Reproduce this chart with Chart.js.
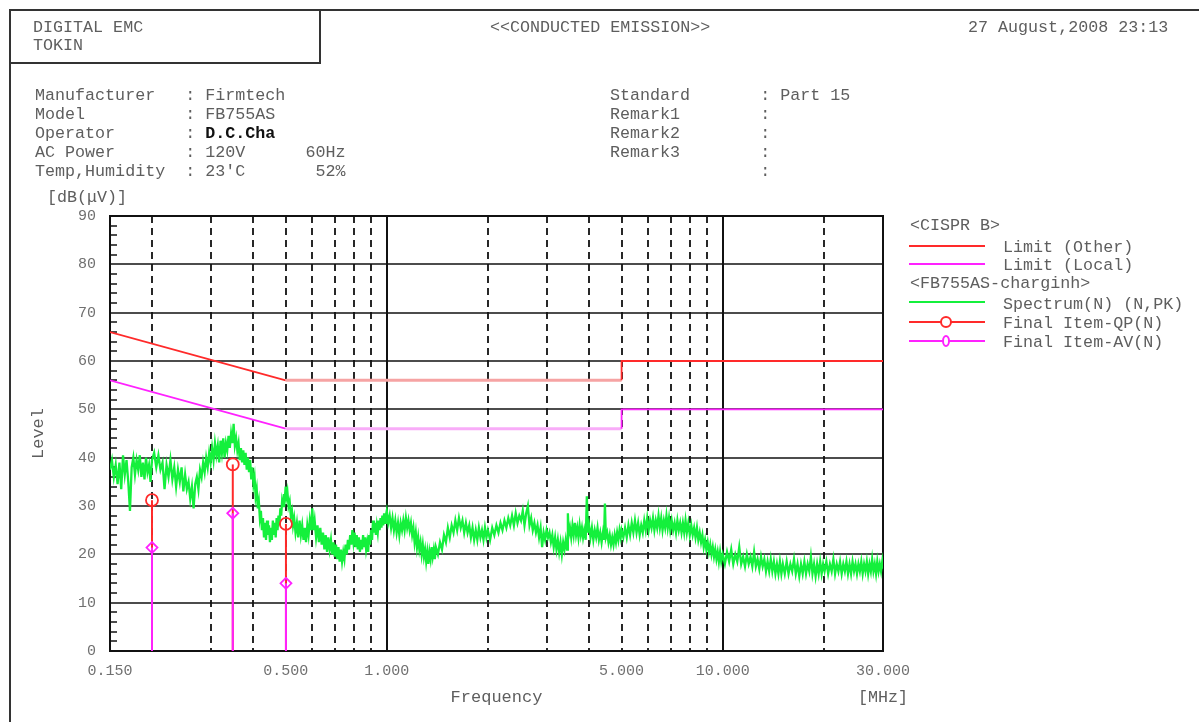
<!DOCTYPE html>
<html><head><meta charset="utf-8">
<script src="https://cdn.jsdelivr.net/npm/chart.js@4.4.1/dist/chart.umd.min.js"></script>
<style>
html,body{margin:0;padding:0;background:#fff;}
#wrap{position:relative;width:1199px;height:722px;overflow:hidden;font-family:"Liberation Mono","DejaVu Sans Mono",monospace;color:#5e5e5e;}
#c{position:absolute;left:0;top:0;}
.t{position:absolute;font-size:16.7px;line-height:20px;white-space:pre;}
.ln{position:absolute;height:2px;width:76px;left:909px;}
.b{font-weight:bold;color:#111;}
</style></head><body>
<div id="wrap">
<canvas id="c" width="1199" height="722"></canvas>
<div style="position:absolute;left:9px;top:9px;width:1190px;height:2px;background:#333"></div>
<div style="position:absolute;left:9px;top:9px;width:2px;height:713px;background:#333"></div>
<div style="position:absolute;left:9px;top:9px;width:312px;height:55px;border:2px solid #333;box-sizing:border-box"></div>

<div class="t" style="left:33px;top:18px">DIGITAL EMC</div>
<div class="t" style="left:33px;top:36px">TOKIN</div>
<div class="t" style="left:490px;top:18px">&lt;&lt;CONDUCTED EMISSION&gt;&gt;</div>
<div class="t" style="left:968px;top:18px">27 August,2008 23:13</div>

<div class="t" style="left:35px;top:86px">Manufacturer   : Firmtech</div>
<div class="t" style="left:35px;top:105px">Model          : FB755AS</div>
<div class="t" style="left:35px;top:124px">Operator       : <span class="b">D.C.Cha</span></div>
<div class="t" style="left:35px;top:143px">AC Power       : 120V      60Hz</div>
<div class="t" style="left:35px;top:162px">Temp,Humidity  : 23'C       52%</div>

<div class="t" style="left:610px;top:86px">Standard       : Part 15</div>
<div class="t" style="left:610px;top:105px">Remark1        :</div>
<div class="t" style="left:610px;top:124px">Remark2        :</div>
<div class="t" style="left:610px;top:143px">Remark3        :</div>
<div class="t" style="left:610px;top:162px">               :</div>

<div class="t" style="left:47px;top:188px">[dB(μV)]</div>
<div class="t" style="left:858px;top:688px">[MHz]</div>

<div class="t" style="left:910px;top:216px">&lt;CISPR B&gt;</div>
<div class="ln" style="top:245px;background:#ff2a2a"></div>
<div class="t" style="left:1003px;top:238px">Limit (Other)</div>
<div class="ln" style="top:263px;background:#ff22ff"></div>
<div class="t" style="left:1003px;top:256px">Limit (Local)</div>
<div class="t" style="left:910px;top:274px">&lt;FB755AS-charginh&gt;</div>
<div class="ln" style="top:301px;background:#14f03c"></div>
<div class="t" style="left:1003px;top:295px">Spectrum(N) (N,PK)</div>
<div class="ln" style="top:321px;background:#ff2a2a"></div>
<div style="position:absolute;left:940px;top:316px;width:12px;height:12px;border:2px solid #ff2a2a;border-radius:50%;box-sizing:border-box;background:#fff"></div>
<div class="t" style="left:1003px;top:314px">Final Item-QP(N)</div>
<div class="ln" style="top:340px;background:#ff22ff"></div>
<div style="position:absolute;left:942px;top:335px;width:8px;height:12px;border:2px solid #ff22ff;border-radius:50%;box-sizing:border-box;background:#fff"></div>
<div class="t" style="left:1003px;top:333px">Final Item-AV(N)</div>
</div>
<script>
// ---- data ----
const limitFreq  = [0.15, 0.5, 5, 5, 30];
const limitOther = [66, 56, 56, 60, 60];
const limitLocal = [56, 46, 46, 50, 50];

const finalFreq = [0.200, 0.348, 0.501];
const finalQP   = [31.2, 38.6, 26.3];
const finalAV   = [21.4, 28.5, 14.0];

const xTickLabels = [0.15, 0.5, 1, 5, 10, 30];
const xGridDashed = [0.2, 0.3, 0.4, 0.5, 0.6, 0.7, 0.8, 0.9, 2, 3, 4, 5, 6, 7, 8, 9, 20];
const xGridSolid  = [1, 10];
const yTicks = [0, 10, 20, 30, 40, 50, 60, 70, 80, 90];
const yMinorTicks = [2,4,6,8,12,14,16,18,22,24,26,28,32,34,36,38,42,44,46,48,52,54,56,58,62,64,66,68,72,74,76,78,82,84,86,88];

// Spectrum (N) peak trace: [MHz, dBuV]
const spectrum = [
[0.150,37.5],[0.152,39.5],[0.154,36.0],[0.156,38.5],[0.158,34.5],[0.160,39.0],[0.162,33.5],[0.164,40.5],[0.166,36.5],[0.168,39.5],
[0.170,35.0],[0.172,29.0],[0.174,38.0],[0.176,40.0],[0.178,36.5],[0.180,39.5],[0.182,37.5],[0.184,40.5],[0.186,36.0],[0.188,39.0],
[0.190,35.5],[0.192,40.0],[0.194,37.0],[0.196,38.5],[0.198,35.0],[0.200,39.5],
[0.203,41.0],[0.206,38.0],[0.209,40.5],[0.212,37.5],[0.215,39.0],[0.218,33.5],[0.221,38.5],[0.224,36.0],[0.227,39.5],[0.230,35.5],
[0.233,38.0],[0.236,34.0],[0.239,37.5],[0.242,35.0],[0.245,38.0],[0.248,33.0],[0.251,36.5],[0.254,33.5],[0.257,35.0],[0.260,31.5],
[0.263,34.0],[0.266,29.5],[0.269,34.5],[0.272,36.0],[0.275,33.5],[0.278,37.5],[0.281,36.0],[0.284,39.0],[0.287,37.0],[0.290,40.0],
[0.293,38.0],[0.296,41.0],[0.299,39.0],
[0.302,42.0],[0.305,39.5],[0.308,43.0],[0.311,40.5],[0.314,42.5],[0.317,39.0],[0.320,43.5],[0.323,41.0],[0.326,44.0],[0.329,40.0],
[0.332,43.0],[0.335,41.5],[0.338,44.5],[0.341,42.0],[0.344,45.0],[0.347,43.0],[0.350,47.0],[0.353,42.5],[0.356,44.0],[0.359,41.5],
[0.362,43.0],[0.365,39.5],[0.368,42.0],[0.371,39.0],[0.374,41.5],[0.377,38.5],[0.380,41.0],[0.383,37.5],[0.386,40.0],[0.389,37.0],
[0.392,39.5],[0.395,35.5],[0.398,38.0],
[0.401,34.5],[0.404,36.0],[0.407,32.0],[0.410,33.5],[0.413,29.5],[0.416,31.0],[0.419,27.5],[0.422,29.0],[0.425,25.0],[0.428,27.5],
[0.431,23.5],[0.434,26.5],[0.437,23.0],[0.440,27.0],[0.443,24.0],[0.446,26.0],[0.449,22.5],[0.452,25.5],[0.455,23.0],[0.458,27.0],
[0.461,24.0],[0.464,26.5],[0.467,23.5],[0.470,27.5],[0.473,25.0],[0.476,28.0],[0.479,26.0],[0.482,29.5],[0.485,28.0],[0.488,31.0],
[0.491,30.0],[0.494,32.5],[0.497,31.5],[0.500,34.0],[0.503,32.0],[0.506,33.0],[0.510,30.0],[0.514,31.0],[0.518,28.0],[0.522,29.0],
[0.526,26.0],[0.530,27.5],[0.535,24.5],[0.540,26.5],[0.545,23.5],[0.550,27.0],[0.555,24.0],[0.560,26.0],[0.565,23.0],[0.570,25.5],
[0.575,22.5],[0.580,26.0],[0.585,24.0],[0.590,27.0],[0.595,25.0],[0.600,29.5],
[0.605,25.0],[0.610,27.0],[0.616,23.5],[0.622,26.0],[0.628,22.5],[0.634,25.5],[0.640,22.0],[0.646,24.5],[0.652,21.0],[0.658,24.0],
[0.664,20.5],[0.670,23.5],[0.676,21.0],[0.682,23.0],[0.688,20.0],[0.694,22.5],[0.700,19.5],[0.706,22.0],[0.712,19.0],[0.718,21.5],
[0.724,18.5],[0.730,21.0],[0.736,18.5],[0.742,20.5],[0.748,19.0],[0.754,22.0],[0.760,20.0],[0.766,23.0],[0.772,21.0],[0.778,24.0],
[0.784,22.0],[0.790,25.0],[0.796,22.5],[0.802,24.5],[0.808,21.5],[0.814,24.0],[0.820,21.0],[0.826,23.5],[0.832,20.5],[0.838,23.0],
[0.844,21.0],[0.850,24.0],[0.856,21.5],[0.862,23.5],[0.868,21.0],[0.874,22.5],[0.880,20.5],[0.886,24.0],[0.892,22.0],[0.898,25.0],
[0.904,23.0],[0.910,27.0],[0.916,24.5],[0.922,26.5],[0.928,24.0],[0.934,26.0],[0.940,24.5],[0.946,27.0],[0.952,25.0],[0.958,27.5],
[0.964,25.5],[0.970,28.0],[0.976,26.0],[0.982,28.5],[0.988,26.5],[0.994,28.0],[1.000,29.0],
[1.01,26.5],[1.02,28.0],[1.03,25.5],[1.04,27.5],[1.05,25.0],[1.06,27.0],[1.07,24.5],[1.08,26.5],[1.09,24.0],[1.10,26.5],
[1.11,25.0],[1.12,27.0],[1.13,25.0],[1.14,27.5],[1.15,25.5],[1.16,27.0],[1.17,25.0],[1.18,26.5],[1.19,24.0],[1.20,25.5],
[1.21,22.5],[1.22,24.5],[1.23,21.5],[1.24,23.5],[1.25,21.0],[1.26,22.5],[1.27,20.0],[1.28,22.0],[1.29,19.5],[1.30,21.0],
[1.31,18.5],[1.32,20.5],[1.33,18.0],[1.34,20.5],[1.35,19.0],[1.36,21.5],[1.37,19.5],[1.38,21.0],[1.39,19.0],[1.40,21.5],
[1.42,20.0],[1.44,22.5],[1.46,21.0],[1.48,24.0],[1.50,22.5],[1.52,25.5],[1.54,23.5],[1.56,26.0],[1.58,24.5],[1.60,27.0],
[1.62,25.0],[1.64,27.5],[1.66,25.5],[1.68,27.0],[1.70,24.5],[1.72,26.5],[1.74,24.5],[1.76,26.0],[1.78,23.5],[1.80,25.5],
[1.82,23.0],[1.84,25.0],[1.86,23.0],[1.88,25.5],[1.90,23.5],[1.92,25.0],[1.94,23.0],[1.96,25.5],[1.98,23.5],[2.00,25.0],
[2.03,23.0],[2.06,25.5],[2.09,24.0],[2.12,26.0],[2.15,24.5],[2.18,26.5],[2.21,25.0],[2.24,27.0],[2.27,25.5],[2.30,27.5],
[2.33,26.0],[2.36,28.0],[2.39,26.0],[2.42,28.5],[2.45,26.5],[2.48,28.0],[2.51,27.0],[2.54,29.0],[2.57,26.0],[2.60,28.5],
[2.63,30.0],[2.66,26.0],[2.69,27.5],[2.72,25.0],[2.75,26.5],[2.78,24.5],[2.81,26.0],[2.84,23.5],[2.87,25.5],[2.90,21.5],
[2.93,24.5],[2.96,23.0],[2.99,25.0],[3.02,23.5],[3.05,24.5],[3.08,22.5],[3.11,24.0],[3.14,21.5],[3.17,23.5],[3.20,21.0],
[3.23,23.0],[3.26,20.5],[3.29,22.5],[3.32,20.0],[3.35,22.5],[3.38,21.0],[3.41,23.0],[3.44,21.0],[3.46,28.5],[3.48,24.0],
[3.51,25.5],[3.54,23.5],[3.57,26.0],[3.60,24.0],[3.63,26.5],[3.66,24.0],[3.69,25.5],[3.72,23.5],[3.75,26.0],[3.78,24.0],
[3.81,25.5],[3.84,23.5],[3.87,25.0],[3.91,23.0],[3.94,32.0],[3.97,24.5],[4.00,26.0],[4.04,23.5],[4.08,25.5],[4.12,23.0],
[4.16,25.0],[4.20,23.5],[4.24,25.5],[4.28,23.0],[4.32,24.5],[4.36,22.5],[4.40,24.5],[4.43,23.0],[4.46,30.5],[4.49,23.5],
[4.53,24.5],[4.57,22.5],[4.61,24.0],[4.65,22.0],[4.69,23.5],[4.73,22.0],[4.77,24.0],[4.81,22.5],[4.85,24.5],[4.89,23.0],
[4.93,25.0],[4.97,23.5],[5.00,25.0],
[5.06,23.5],[5.12,25.5],[5.18,23.5],[5.24,26.0],[5.30,24.0],[5.36,26.5],[5.42,24.5],[5.48,27.0],[5.54,24.5],[5.60,26.5],
[5.66,24.0],[5.72,26.0],[5.78,24.5],[5.84,27.0],[5.90,25.0],[5.96,27.5],[6.02,25.0],[6.08,27.0],[6.14,25.5],[6.20,27.5],
[6.26,25.0],[6.32,27.0],[6.38,25.5],[6.44,28.0],[6.50,25.5],[6.56,27.5],[6.62,25.0],[6.68,27.0],[6.74,25.5],[6.80,28.0],
[6.86,25.5],[6.92,27.5],[6.98,25.0],[7.05,27.0],[7.12,25.0],[7.19,26.5],[7.26,24.5],[7.33,27.0],[7.40,25.0],[7.47,26.5],
[7.54,24.5],[7.61,26.5],[7.68,24.5],[7.75,27.0],[7.82,24.5],[7.90,26.5],[7.98,24.0],[8.06,26.0],[8.14,24.0],[8.22,25.5],
[8.30,23.5],[8.38,25.5],[8.46,23.0],[8.54,24.5],[8.62,22.5],[8.70,24.0],[8.78,21.5],[8.86,23.0],[8.94,21.0],[9.02,22.5],
[9.10,20.5],[9.18,22.0],[9.26,20.0],[9.34,21.5],[9.42,19.5],[9.50,21.0],[9.58,19.0],[9.66,20.5],[9.74,18.5],[9.82,20.5],
[9.90,18.5],[10.0,20.0],
[10.15,18.0],[10.3,20.5],[10.45,18.5],[10.6,21.0],[10.75,18.0],[10.9,20.0],[11.05,18.5],[11.2,21.5],[11.35,18.0],[11.5,19.5],
[11.65,17.5],[11.8,20.0],[11.95,18.0],[12.1,19.5],[12.25,17.5],[12.4,20.5],[12.55,17.5],[12.7,19.0],[12.85,17.0],[13.0,19.5],
[13.15,17.5],[13.3,19.0],[13.45,16.5],[13.6,18.5],[13.75,16.5],[13.9,19.0],[14.05,16.5],[14.2,18.5],[14.35,16.0],[14.5,18.0],
[14.65,16.0],[14.8,18.5],[14.95,16.0],[15.1,18.0],[15.3,16.0],[15.5,18.5],[15.7,16.0],[15.9,18.0],[16.1,16.5],[16.3,19.0],
[16.5,16.0],[16.7,18.0],[16.9,15.5],[17.1,18.0],[17.3,16.0],[17.5,18.5],[17.7,16.0],[17.9,18.0],[18.1,16.5],[18.3,19.5],
[18.5,16.0],[18.7,18.0],[18.9,15.5],[19.1,18.0],[19.3,16.0],[19.5,18.5],[19.7,16.0],[19.9,18.0],[20.1,16.5],[20.35,18.5],
[20.6,16.0],[20.85,18.0],[21.1,16.5],[21.35,19.0],[21.6,16.0],[21.85,18.0],[22.1,16.5],[22.35,18.5],[22.6,16.0],[22.85,18.0],
[23.1,16.5],[23.35,18.5],[23.6,16.0],[23.85,18.0],[24.1,16.0],[24.35,18.5],[24.6,16.5],[24.85,18.0],[25.1,16.0],[25.35,18.0],
[25.6,16.5],[25.85,18.5],[26.1,16.0],[26.35,18.0],[26.6,16.5],[26.85,18.5],[27.1,16.0],[27.35,18.0],[27.6,16.5],[27.85,19.0],
[28.1,16.5],[28.35,18.0],[28.6,16.0],[28.85,18.5],[29.1,16.5],[29.35,18.0],[29.6,16.5],[29.85,18.5],[30.0,17.0]
];

// ---- colours ----
const RED = '#ff2a2a', RED_PALE = '#f6a3a3';
const MAG = '#ff22ff', MAG_PALE = '#f8acf8';
const GREEN = '#14f03c';
const FONT = 'Liberation Mono';

function limitDataset(vals, bright, pale) {
  return {
    data: limitFreq.map((f, i) => ({x: f, y: vals[i]})),
    borderColor: bright, borderWidth: 1.8, pointRadius: 0, order: 4,
    segment: {
      borderColor: c => c.p0DataIndex === 1 ? pale : bright,
      borderWidth: c => c.p0DataIndex === 1 ? 3 : 1.8
    }
  };
}

const datasets = [
  limitDataset(limitOther, RED, RED_PALE),
  limitDataset(limitLocal, MAG, MAG_PALE),
  {
    data: spectrum.map(p => ({x: p[0], y: p[1]})),
    borderColor: GREEN, borderWidth: 2.3, pointRadius: 0, order: 3
  }
];
finalFreq.forEach((f, i) => {
  datasets.push({
    data: [{x: f, y: 0}, {x: f, y: finalQP[i]}],
    borderColor: RED, borderWidth: 2, order: 2,
    pointRadius: [0, 6], pointStyle: 'circle',
    pointBorderColor: RED, pointBackgroundColor: 'rgba(255,255,255,0)', pointBorderWidth: 1.8
  });
});
finalFreq.forEach((f, i) => {
  datasets.push({
    data: [{x: f, y: 0}, {x: f, y: finalAV[i]}],
    borderColor: MAG, borderWidth: 2, order: 1,
    pointRadius: [0, 5.5], pointStyle: 'rectRot',
    pointBorderColor: MAG, pointBackgroundColor: 'rgba(255,255,255,0)', pointBorderWidth: 1.8
  });
});

const gridPlugin = {
  id: 'emcGrid',
  beforeDatasetsDraw(chart) {
    const {ctx, chartArea: a, scales: {x, y}} = chart;
    const seg = (x1, y1, x2, y2) => { ctx.beginPath(); ctx.moveTo(x1, y1); ctx.lineTo(x2, y2); ctx.stroke(); };
    ctx.save();
    ctx.strokeStyle = '#111';
    ctx.lineWidth = 1.6;
    yTicks.forEach(v => {
      if (v === 0 || v === 90) return;
      const py = Math.round(y.getPixelForValue(v));
      seg(a.left, py, a.right, py);
    });
    ctx.lineWidth = 1.5;
    yMinorTicks.forEach(v => {
      const py = Math.round(y.getPixelForValue(v));
      seg(a.left, py, a.left + 7, py);
    });
    ctx.lineWidth = 1.8;
    ctx.setLineDash([7, 5]);
    xGridDashed.forEach(v => {
      const px = Math.round(x.getPixelForValue(v));
      seg(px, a.top, px, a.bottom);
    });
    ctx.setLineDash([]);
    ctx.lineWidth = 2;
    xGridSolid.forEach(v => {
      const px = Math.round(x.getPixelForValue(v));
      seg(px, a.top, px, a.bottom);
    });
    ctx.strokeRect(a.left, a.top, a.right - a.left, a.bottom - a.top);
    ctx.restore();
  }
};

new Chart(document.getElementById('c'), {
  type: 'line',
  data: {datasets},
  plugins: [gridPlugin],
  options: {
    responsive: false, animation: false, devicePixelRatio: 1,
    layout: {padding: {left: 20, right: 316, top: 216, bottom: 0}},
    plugins: {legend: {display: false}, tooltip: {enabled: false}},
    elements: {line: {tension: 0}},
    scales: {
      x: {
        type: 'logarithmic', min: 0.15, max: 30,
        afterBuildTicks: s => { s.ticks = xTickLabels.map(v => ({value: v})); },
        afterFit: s => { s.height = 71; },
        grid: {display: false, drawTicks: false}, border: {display: false},
        ticks: {
          callback: v => Number(v).toFixed(3), autoSkip: false, maxRotation: 0,
          color: '#707070', font: {family: FONT, size: 15}, padding: 11
        },
        title: {display: true, text: 'Frequency', color: '#5e5e5e', font: {family: FONT, size: 17}, padding: {top: 0, bottom: 14}}
      },
      y: {
        min: 0, max: 90,
        afterBuildTicks: s => { s.ticks = yTicks.map(v => ({value: v})); },
        afterFit: s => { s.width = 90; },
        grid: {display: false, drawTicks: false}, border: {display: false},
        ticks: {color: '#707070', font: {family: FONT, size: 15}, padding: 14},
        title: {display: true, text: 'Level', color: '#5e5e5e', font: {family: FONT, size: 17}, padding: {top: 8, bottom: 0}}
      }
    }
  }
});
</script>
</body></html>
